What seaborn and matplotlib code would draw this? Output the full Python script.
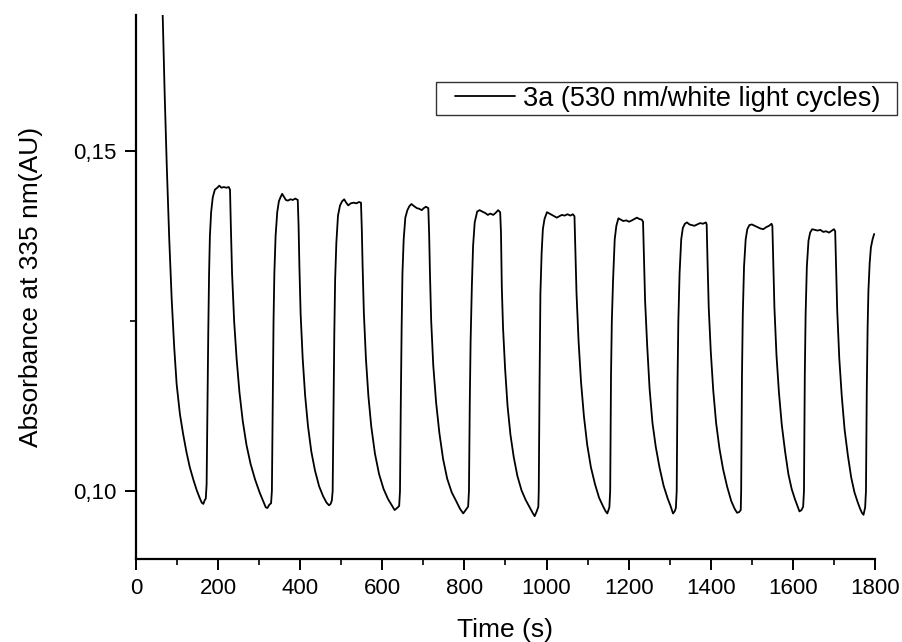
import numpy as np
import pandas as pd
import matplotlib
matplotlib.use("Agg")
import matplotlib.pyplot as plt
from matplotlib.patches import Rectangle
from matplotlib.ticker import MultipleLocator
import seaborn as sns

# Absorbance at 335 nm of compound 3a under alternating 530 nm / white light.
# Readings are grouped by switching cycle: (time in s, absorbance in AU).
decay_t = [63, 65, 70, 75, 81, 87, 93, 99, 107, 115, 123, 131, 140, 148, 155, 160, 164, 167, 170]
decay_a = [0.1760, 0.1700, 0.1580, 0.1477, 0.1370, 0.1281, 0.1212, 0.1157, 0.1113, 0.1083,
           0.1057, 0.1035, 0.1016, 0.1001, 0.0990, 0.0983, 0.0981, 0.0986, 0.0989]

c1_t = [172, 174, 176, 178, 180, 183, 187, 192, 198, 203, 208, 214, 220, 226, 229,
        231, 234, 239, 245, 252, 260, 269, 279, 290, 301, 310, 316, 320, 325, 329]
c1_a = [0.1010, 0.1120, 0.1232, 0.1320, 0.1375, 0.1410, 0.1432, 0.1443, 0.1446, 0.1449,
        0.1446, 0.1447, 0.1446, 0.1447, 0.1443, 0.1390, 0.1320, 0.1250, 0.1195, 0.1145,
        0.1103, 0.1068, 0.1040, 0.1017, 0.0998, 0.0985, 0.0976, 0.0975, 0.0980, 0.0982]

c2_t = [331, 333, 335, 337, 340, 344, 348, 352, 356, 360, 365, 370, 376, 382, 388, 394,
        396, 398, 401, 406, 412, 419, 427, 436, 446, 456, 464, 470, 474, 477]
c2_a = [0.1000, 0.1130, 0.1250, 0.1320, 0.1375, 0.1410, 0.1426, 0.1432, 0.1437, 0.1433,
        0.1428, 0.1427, 0.1429, 0.1428, 0.1430, 0.1428, 0.1390, 0.1330, 0.1260, 0.1195,
        0.1140, 0.1095, 0.1058, 0.1030, 0.1007, 0.0992, 0.0983, 0.0979, 0.0981, 0.0986]

c3_t = [479, 481, 483, 485, 488, 492, 497, 502, 507, 512, 517, 523, 530, 537, 543, 548,
        550, 552, 555, 560, 566, 573, 582, 592, 603, 614, 623, 630, 636, 641]
c3_a = [0.1000, 0.1120, 0.1230, 0.1310, 0.1365, 0.1405, 0.1420, 0.1426, 0.1429, 0.1424,
        0.1420, 0.1423, 0.1424, 0.1423, 0.1425, 0.1424, 0.1385, 0.1330, 0.1262, 0.1195,
        0.1140, 0.1095, 0.1055, 0.1025, 0.1003, 0.0988, 0.0979, 0.0972, 0.0975, 0.0978]

c4_t = [643, 645, 647, 649, 652, 656, 661, 666, 671, 677, 684, 690, 696, 701, 706, 712,
        714, 716, 719, 724, 731, 739, 748, 758, 769, 780, 789, 797, 803, 809]
c4_a = [0.1000, 0.1130, 0.1240, 0.1320, 0.1370, 0.1402, 0.1413, 0.1419, 0.1422, 0.1419,
        0.1416, 0.1415, 0.1413, 0.1416, 0.1418, 0.1416, 0.1378, 0.1320, 0.1250, 0.1185,
        0.1130, 0.1085, 0.1047, 0.1018, 0.0998, 0.0985, 0.0974, 0.0967, 0.0972, 0.0977]

c5_t = [811, 813, 815, 818, 821, 825, 831, 837, 843, 850, 857, 863, 870, 876, 882, 887,
        889, 891, 894, 899, 905, 912, 920, 929, 939, 949, 958, 966, 971, 976, 980]
c5_a = [0.1000, 0.1130, 0.1220, 0.1300, 0.1360, 0.1395, 0.1411, 0.1413, 0.1411, 0.1409,
        0.1406, 0.1408, 0.1406, 0.1409, 0.1413, 0.1410, 0.1380, 0.1300, 0.1240, 0.1180,
        0.1125, 0.1083, 0.1050, 0.1022, 0.1001, 0.0987, 0.0977, 0.0968, 0.0963, 0.0970, 0.0977]

c6_t = [981, 983, 985, 988, 991, 995, 1001, 1007, 1013, 1019, 1025, 1031, 1037, 1044, 1051,
        1058, 1064, 1068, 1070, 1073, 1078, 1084, 1091, 1099, 1108, 1118, 1128, 1138, 1144,
        1148, 1153]
c6_a = [0.1000, 0.1160, 0.1290, 0.1350, 0.1385, 0.1400, 0.1410, 0.1408, 0.1406, 0.1404,
        0.1402, 0.1404, 0.1406, 0.1405, 0.1407, 0.1405, 0.1407, 0.1404, 0.1360, 0.1290,
        0.1220, 0.1160, 0.1110, 0.1068, 0.1035, 0.1010, 0.0990, 0.0977, 0.0970, 0.0967, 0.0976]

c7_t = [1155, 1157, 1159, 1162, 1166, 1170, 1175, 1181, 1187, 1194, 1201, 1208, 1214, 1220,
        1226, 1232, 1235, 1237, 1240, 1245, 1251, 1258, 1266, 1275, 1285, 1295, 1302, 1308,
        1312, 1315]
c7_a = [0.1000, 0.1170, 0.1250, 0.1310, 0.1370, 0.1390, 0.1401, 0.1399, 0.1397, 0.1398,
        0.1396, 0.1398, 0.1400, 0.1402, 0.1400, 0.1399, 0.1396, 0.1350, 0.1280, 0.1215,
        0.1150, 0.1100, 0.1065, 0.1035, 0.1008, 0.0989, 0.0978, 0.0967, 0.0970, 0.0975]

c8_t = [1317, 1319, 1321, 1324, 1328, 1332, 1337, 1342, 1348, 1354, 1360, 1367, 1374, 1381,
        1388, 1390, 1392, 1395, 1400, 1406, 1413, 1421, 1430, 1440, 1450, 1458, 1464, 1469, 1473]
c8_a = [0.1000, 0.1160, 0.1250, 0.1320, 0.1370, 0.1387, 0.1393, 0.1395, 0.1392, 0.1391,
        0.1390, 0.1392, 0.1394, 0.1393, 0.1395, 0.1392, 0.1340, 0.1270, 0.1205, 0.1148,
        0.1100, 0.1063, 0.1032, 0.1006, 0.0985, 0.0974, 0.0968, 0.0969, 0.0972]

c9_t = [1474, 1476, 1478, 1481, 1485, 1489, 1494, 1500, 1507, 1514, 1521, 1528, 1535, 1542,
        1548, 1550, 1552, 1555, 1560, 1566, 1573, 1581, 1589, 1597, 1605, 1611, 1616, 1621, 1625]
c9_a = [0.1000, 0.1170, 0.1260, 0.1330, 0.1370, 0.1385, 0.1391, 0.1392, 0.1390, 0.1388,
        0.1386, 0.1385, 0.1388, 0.1390, 0.1393, 0.1390, 0.1340, 0.1270, 0.1200, 0.1145,
        0.1097, 0.1058, 0.1025, 0.1003, 0.0988, 0.0978, 0.0970, 0.0972, 0.0977]

c10_t = [1627, 1629, 1631, 1634, 1638, 1642, 1647, 1653, 1660, 1667, 1674, 1681, 1688, 1695,
         1700, 1703, 1705, 1708, 1713, 1719, 1726, 1734, 1742, 1750, 1757, 1763, 1768, 1772, 1776]
c10_a = [0.1000, 0.1170, 0.1260, 0.1330, 0.1368, 0.1380, 0.1385, 0.1384, 0.1383, 0.1384,
         0.1381, 0.1382, 0.1380, 0.1383, 0.1385, 0.1382, 0.1335, 0.1265, 0.1195, 0.1140,
         0.1090, 0.1052, 0.1020, 0.0998, 0.0985, 0.0975, 0.0968, 0.0965, 0.0976]

c11_t = [1778, 1780, 1782, 1784, 1787, 1790, 1794, 1798]
c11_a = [0.1000, 0.1150, 0.1240, 0.1295, 0.1335, 0.1358, 0.1370, 0.1378]

series_label = "3a (530 nm/white light cycles)"
xtick_values = [0, 200, 400, 600, 800, 1000, 1200, 1400, 1600, 1800]
xtick_labels = ["0", "200", "400", "600", "800", "1000", "1200", "1400", "1600", "1800"]
ytick_values = [0.10, 0.15]
ytick_labels = ["0,10", "0,15"]

sns.set_style("ticks")
plt.rcParams["font.family"] = ["Liberation Sans", "DejaVu Sans"]
plt.rcParams["text.color"] = "black"
plt.rcParams["axes.labelcolor"] = "black"
plt.rcParams["xtick.color"] = "black"
plt.rcParams["ytick.color"] = "black"

times = [decay_t, c1_t, c2_t, c3_t, c4_t, c5_t, c6_t, c7_t, c8_t, c9_t, c10_t, c11_t]
values = [decay_a, c1_a, c2_a, c3_a, c4_a, c5_a, c6_a, c7_a, c8_a, c9_a, c10_a, c11_a]
df = pd.DataFrame({"time": np.concatenate(times), "absorbance": np.concatenate(values)})

W, H = 903, 642
fig = plt.figure(figsize=(W / 100, H / 100), dpi=100)
ax = fig.add_axes([136 / W, 1 - 559 / H, 739 / W, 544 / H])

sns.lineplot(data=df, x="time", y="absorbance", ax=ax, color="black", linewidth=1.3,
             estimator=None, sort=False, label=series_label)

ax.set_xlim(0, 1800)
ax.set_ylim(0.09, 0.17)
ax.set_xticks(xtick_values, labels=xtick_labels)
ax.set_yticks(ytick_values, labels=ytick_labels)
ax.xaxis.set_minor_locator(MultipleLocator(100))
ax.yaxis.set_minor_locator(MultipleLocator(0.025))

for side in ("top", "right"):
    ax.spines[side].set_visible(False)
for side in ("left", "bottom"):
    ax.spines[side].set_linewidth(1.6)
    ax.spines[side].set_color("black")

ax.tick_params(which="major", direction="out", length=8, width=1.4, labelsize=16,
               pad=6, colors="black")
ax.tick_params(which="minor", direction="out", length=4, width=1.2, colors="black")

ax.set_xlabel("Time (s)", fontsize=19, labelpad=13, color="black")
ax.set_ylabel("Absorbance at 335 nm(AU)", fontsize=19, labelpad=22, color="black")

leg = ax.legend(loc="center left", bbox_to_anchor=(455 / W, 1 - 98.5 / H),
                bbox_transform=fig.transFigure, frameon=False, fontsize=19.5,
                handlelength=2.2, handletextpad=0.3, borderpad=0, borderaxespad=0)
for line in leg.get_lines():
    line.set_linewidth(1.3)
for text in leg.get_texts():
    text.set_color("black")

fig.add_artist(Rectangle((436 / W, 1 - 115 / H), 461 / W, 33 / H, transform=fig.transFigure,
                         fill=False, edgecolor="#333333", linewidth=1.0))

fig.savefig("out.png", dpi=100, facecolor="white")
